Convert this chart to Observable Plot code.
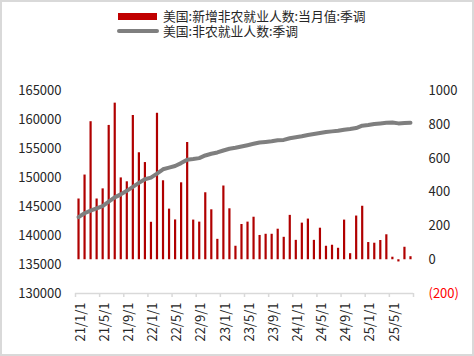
<!DOCTYPE html>
<html>
<head>
<meta charset="utf-8">
<script src="https://cdn.jsdelivr.net/npm/d3@7"></script>
<script src="https://cdn.jsdelivr.net/npm/@observablehq/plot@0.6"></script>
<style>
  body { margin: 0; background: #fff; }
  #wrap { position: relative; width: 474px; height: 356px; overflow: hidden; background: #fff;
          font-family: "Noto Sans CJK SC", "Noto Sans", sans-serif; }
  #frame { position: absolute; left: 0; top: 0; width: 474px; height: 356px; box-sizing: border-box;
           border: 2px solid #d9d9d9; pointer-events: none; z-index: 5; }
  #legend { position: absolute; left: 0; top: 0; width: 474px; height: 40px; }
  .item { position: absolute; left: 163px; font-size: 12.8px; line-height: 14px; height: 14px; color: #262626; white-space: nowrap; }
  .sw { position: absolute; }
  .plot { position: absolute; left: 0; top: 40px; }
</style>
</head>
<body>
<div id="wrap">
  <div id="legend"></div>
  <div id="frame"></div>
</div>
<script>
// ---- data ----
const seriesNames = ["美国:新增非农就业人数:当月值:季调", "美国:非农就业人数:季调"];
const months = [
  "2021-01","2021-02","2021-03","2021-04","2021-05","2021-06","2021-07","2021-08","2021-09","2021-10","2021-11","2021-12",
  "2022-01","2022-02","2022-03","2022-04","2022-05","2022-06","2022-07","2022-08","2022-09","2022-10","2022-11","2022-12",
  "2023-01","2023-02","2023-03","2023-04","2023-05","2023-06","2023-07","2023-08","2023-09","2023-10","2023-11","2023-12",
  "2024-01","2024-02","2024-03","2024-04","2024-05","2024-06","2024-07","2024-08","2024-09","2024-10","2024-11","2024-12",
  "2025-01","2025-02","2025-03","2025-04","2025-05","2025-06","2025-07","2025-08"
];
const payrollChange = [360,502,818,360,420,796,928,485,462,855,634,576,
  222,868,468,300,236,456,695,235,223,397,296,121,
  437,302,80,209,223,252,144,151,151,181,133,263,
  115,217,241,115,187,80,86,68,235,36,259,317,
  102,98,114,148,15,-13,74,18];
const payrollLevel = [143190,143875,144320,144730,145120,145860,146610,147130,147750,148430,149120,149750,
  150040,150730,151470,151750,152030,152540,153125,153230,153400,153860,154150,154375,
  154720,155010,155180,155400,155630,155870,156090,156200,156310,156480,156550,156830,
  157000,157170,157400,157570,157740,157910,158020,158140,158310,158430,158600,159000,
  159120,159290,159400,159510,159570,159400,159460,159510];
const tickMonths = ["2021-01","2021-05","2021-09","2022-01","2022-05","2022-09","2023-01","2023-05","2023-09","2024-01","2024-05","2024-09","2025-01","2025-05"];
const tickLabels = ["21/1/1","21/5/1","21/9/1","22/1/1","22/5/1","22/9/1","23/1/1","23/5/1","23/9/1","24/1/1","24/5/1","24/9/1","25/1/1","25/5/1"];
const leftTicks = [130000,135000,140000,145000,150000,155000,160000,165000];
const rightTicks = [0,200,400,600,800,1000];
const rightNegTicks = [-200];

// ---- table ----
const data = months.map((m, i) => ({i, month: m, change: payrollChange[i], level: payrollLevel[i]}));
const tickIdx = tickMonths.map(m => months.indexOf(m));
const tickBounds = tickIdx.map(i => i - 0.5).concat([months.length - 0.5]);
const labelOf = new Map(tickIdx.map((i, k) => [i, tickLabels[k]]));

// ---- legend ----
const legend = document.getElementById("legend");
legend.innerHTML = `
  <div class="sw" style="left:118px;top:13px;width:39px;height:7px;background:#C00000"></div>
  <div class="item" style="top:9px">${seriesNames[0]}</div>
  <div class="sw" style="left:117px;top:29px;width:42px;height:4px;border-radius:2px;background:#7F7F7F"></div>
  <div class="item" style="top:24px">${seriesNames[1]}</div>`;

const common = {
  width: 474, height: 316,
  marginLeft: 75, marginRight: 61, marginTop: 50.5, marginBottom: 63,
  x: {type: "linear", domain: [-0.5, months.length - 0.5], axis: null, label: null},
  style: {fontFamily: '"Noto Sans CJK SC", "Noto Sans", sans-serif', fontSize: "13px", color: "#262626", background: "transparent", overflow: "visible"}
};

const p1 = Plot.plot({
  ...common,
  y: {domain: [-200, 1000], axis: null, label: null},
  marks: [
    Plot.ruleX(data, {x: "i", y1: 0, y2: "change", stroke: "#B00000", strokeWidth: 2.2}),
    Plot.ruleY([-200], {stroke: "#d9d9d9", strokeWidth: 1.5}),
    Plot.axisX(tickBounds, {tickSize: 4, tickFormat: () => "", label: null, stroke: "#d9d9d9", strokeWidth: 1.5, strokeOpacity: 1}),
    Plot.axisX(tickIdx, {tickSize: 0, tickRotate: -90, tickPadding: 9, dx: 2, label: null, tickFormat: i => labelOf.get(i), fill: "#262626"}),
    Plot.axisY(rightTicks, {anchor: "right", tickSize: 0, tickPadding: 15, label: null, tickFormat: d => String(d), fill: "#262626"}),
    Plot.axisY(rightNegTicks, {anchor: "right", tickSize: 0, tickPadding: 15, label: null, tickFormat: d => `(${Math.abs(d)})`, fill: "#FF0000"})
  ]
});

const p2 = Plot.plot({
  ...common,
  y: {domain: [130000, 165000], axis: null, label: null},
  marks: [
    Plot.line(data, {x: "i", y: "level", stroke: "#7F7F7F", strokeWidth: 4, strokeLinejoin: "round", strokeLinecap: "round"}),
    Plot.axisY(leftTicks, {anchor: "left", tickSize: 0, tickPadding: 14, label: null, tickFormat: d => String(d), fill: "#262626"})
  ]
});

for (const p of [p1, p2]) {
  p.classList.add("plot");
  p.style.background = "transparent";
  document.getElementById("wrap").appendChild(p);
}
</script>
</body>
</html>
